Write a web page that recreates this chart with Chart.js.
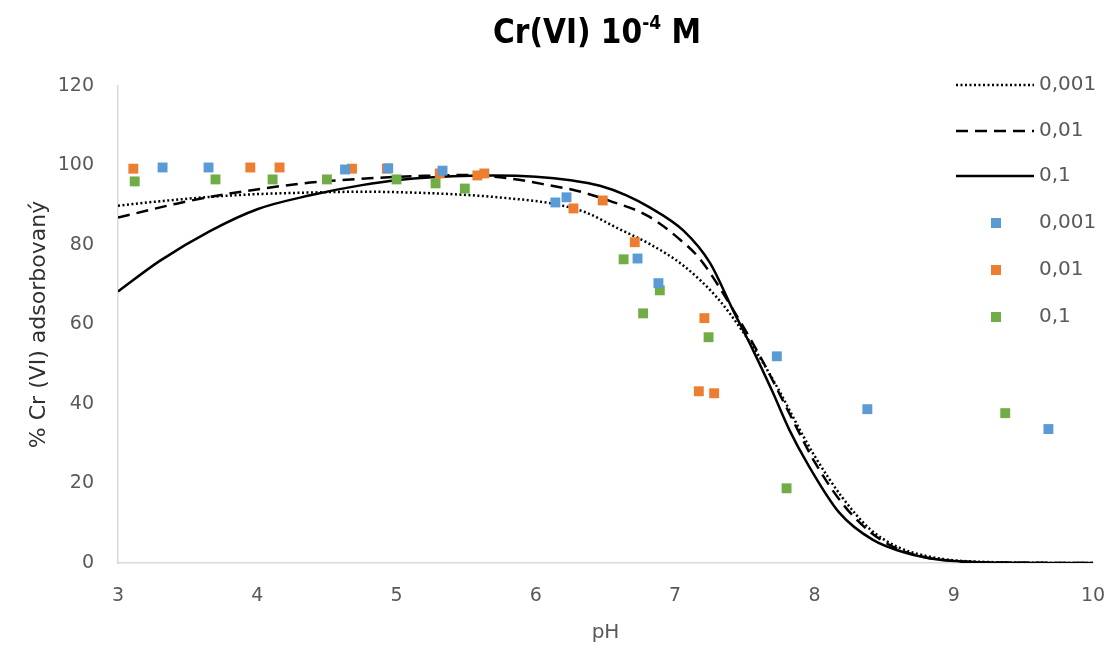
<!DOCTYPE html>
<html>
<head>
<meta charset="utf-8">
<script src="https://cdn.jsdelivr.net/npm/chart.js@4.4.0/dist/chart.umd.min.js"></script>
<style>
  html, body { margin: 0; padding: 0; background: #fff; }
  #wrap { width: 1117px; height: 652px; }
</style>
</head>
<body>
<div id="wrap"><canvas id="myChart" width="1117" height="652"></canvas></div>
<script>
// fitted curves (model)
var line001X = [3.0, 3.3, 3.66, 4.0, 4.38, 4.75, 5.1, 5.5, 5.76, 6.12, 6.35, 6.6, 6.82, 7.06, 7.3, 7.47, 7.62, 7.76, 7.88, 8.0, 8.2, 8.4, 8.6, 8.8, 9.0, 9.3, 9.6, 10];
var line001Y = [89.9, 91.0, 92.1, 92.8, 93.2, 93.4, 93.2, 92.6, 91.9, 90.4, 88.3, 84.0, 80.2, 74.8, 66.8, 59.0, 51.0, 42.5, 34.5, 27.0, 16.5, 8.5, 4.0, 1.8, 0.7, 0.2, 0.05, 0];

var line01X = [3.0, 3.42, 3.66, 4.02, 4.38, 4.86, 5.2, 5.5, 5.8, 6.1, 6.3, 6.53, 6.8, 7.06, 7.18, 7.42, 7.61, 7.75, 7.88, 8.0, 8.2, 8.4, 8.6, 8.8, 9.0, 9.4, 10];
var line01Y = [86.9, 90.4, 92.1, 94.1, 95.7, 96.9, 97.4, 97.6, 96.8, 95.0, 93.6, 91.1, 87.4, 80.6, 76.4, 63.5, 52.0, 42.5, 33.5, 25.5, 15.0, 7.8, 3.5, 1.4, 0.5, 0.1, 0];

var line1X = [3.0, 3.3, 3.66, 4.0, 4.38, 4.74, 5.05, 5.4, 5.7, 6.0, 6.25, 6.46, 6.65, 6.82, 7.06, 7.25, 7.41, 7.56, 7.7, 7.82, 7.95, 8.18, 8.42, 8.66, 8.9, 9.2, 9.6, 10];
var line1Y = [68.3, 76.0, 83.5, 89.0, 92.5, 95.0, 96.5, 97.3, 97.5, 97.2, 96.3, 94.9, 92.5, 89.4, 83.6, 75.5, 64.0, 53.5, 43.0, 33.5, 25.0, 12.6, 5.8, 2.5, 0.8, 0.2, 0.03, 0];

// measured points
var blueX = [3.32, 3.65, 4.63, 4.94, 5.33, 6.14, 6.22, 6.73, 6.88, 7.73, 8.38, 9.68];
var blueY = [99.5, 99.5, 99.0, 99.3, 98.7, 90.7, 92.0, 76.6, 70.4, 52.0, 38.7, 33.7];

var orangeX = [3.11, 3.95, 4.16, 4.68, 4.93, 5.31, 5.58, 5.63, 6.27, 6.48, 6.71, 7.17, 7.21, 7.28];
var orangeY = [99.2, 99.5, 99.5, 99.2, 99.2, 98.0, 97.5, 98.0, 89.2, 91.2, 80.7, 43.2, 61.6, 42.7];

var greenX = [3.12, 3.70, 4.11, 4.50, 5.0, 5.28, 5.49, 6.63, 6.77, 6.89, 7.24, 7.80, 9.37];
var greenY = [96.0, 96.5, 96.5, 96.5, 96.5, 95.5, 94.2, 76.4, 62.8, 68.6, 56.8, 18.8, 37.7];

var legendLabels = ["0,001", "0,01", "0,1", "0,001", "0,01", "0,1"];
var xTitle = "pH";
var yTitle = "% Cr (VI) adsorbovaný";

var pts = (xs, ys) => xs.map((x, i) => ({ x: x, y: ys[i] }));

var fontFam = '"DejaVu Sans", "Open Sans", sans-serif';
var titleFam = '"Liberation Sans Narrow", "DejaVu Sans Condensed", sans-serif';
var grayText = "#595959";

function lineSet(label, xs, ys, dash) {
  return {
    type: "scatter",
    label: label,
    data: pts(xs, ys),
    showLine: true,
    borderColor: "#000",
    backgroundColor: "#000",
    borderWidth: 2.5,
    borderDash: dash,
    pointRadius: 0,
    cubicInterpolationMode: "monotone",
    order: 2
  };
}
function dotSet(label, xs, ys, color) {
  return {
    type: "scatter",
    label: label,
    data: pts(xs, ys),
    showLine: false,
    pointStyle: "rect",
    pointRadius: 7,
    backgroundColor: color,
    borderColor: color,
    borderWidth: 0,
    order: 1
  };
}

// legend + title drawn by hand, the plot overlaps the legend in the original
var sideLegend = {
  id: "sideLegend",
  afterDraw(chart) {
    var ctx = chart.ctx;
    ctx.save();
    // title with superscript
    var big = "bold 33px " + titleFam, small = "bold 19px " + titleFam;
    ctx.font = big;
    var a = "Cr(VI) 10", c = " M";
    var wa = ctx.measureText(a).width, wc = ctx.measureText(c).width;
    ctx.font = small;
    var wb = ctx.measureText("-4").width;
    var x0 = 597 - (wa + wb + wc) / 2;
    ctx.fillStyle = "#000";
    ctx.textBaseline = "alphabetic";
    ctx.font = big; ctx.fillText(a, x0, 43);
    ctx.font = small; ctx.fillText("-4", x0 + wa, 29);
    ctx.font = big; ctx.fillText(c, x0 + wa + wb, 43);

    var rows = [85, 131, 176, 223, 270, 317];
    ctx.font = "20px " + fontFam;
    ctx.textBaseline = "middle";
    chart.data.datasets.forEach((ds, i) => {
      var y = rows[i];
      if (ds.showLine) {
        ctx.strokeStyle = ds.borderColor;
        ctx.lineWidth = ds.borderWidth;
        ctx.setLineDash(ds.borderDash || []);
        ctx.beginPath();
        ctx.moveTo(956, y);
        ctx.lineTo(1034, y);
        ctx.stroke();
        ctx.setLineDash([]);
      } else {
        ctx.fillStyle = ds.backgroundColor;
        ctx.fillRect(991, y - 5, 10, 10);
      }
      ctx.fillStyle = grayText;
      ctx.fillText(legendLabels[i], 1039, y);
    });
    ctx.restore();
  }
};

var ctx = document.getElementById("myChart").getContext("2d");
var chart = new Chart(ctx, {
  type: "scatter",
  data: {
    datasets: [
      lineSet("0,001", line001X, line001Y, [2, 2.5]),
      lineSet("0,01", line01X, line01Y, [12, 7]),
      lineSet("0,1", line1X, line1Y, []),
      dotSet("0,001", blueX, blueY, "#5B9BD5"),
      dotSet("0,01", orangeX, orangeY, "#ED7D31"),
      dotSet("0,1", greenX, greenY, "#70AD47")
    ]
  },
  options: {
    responsive: false,
    animation: false,
    layout: { padding: { top: 86, right: 24, left: 0, bottom: 0 } },
    plugins: {
      legend: { display: false },
      title: { display: false },
      tooltip: { enabled: false }
    },
    scales: {
      x: {
        type: "linear",
        min: 3,
        max: 10,
        ticks: { stepSize: 1, padding: 22, maxRotation: 0, color: grayText, font: { family: fontFam, size: 19 } },
        grid: { display: false, drawTicks: false },
        border: { color: "#d9d9d9", width: 1.5 },
        title: { display: true, text: xTitle, color: grayText, font: { family: fontFam, size: 20 }, padding: { top: 0, bottom: 7 } },
        afterFit: s => { s.height = 89; s.paddingLeft = 0; s.paddingRight = 0; }
      },
      y: {
        min: 0,
        max: 120,
        ticks: { stepSize: 20, padding: 24, color: grayText, font: { family: fontFam, size: 19 } },
        grid: { display: false, drawTicks: false },
        border: { color: "#d9d9d9", width: 1.5 },
        title: { display: true, text: yTitle, color: "#303030", font: { family: fontFam, size: 22 }, padding: { top: 26, bottom: 0 } },
        afterFit: s => { s.width = 118; }
      }
    }
  },
  plugins: [sideLegend]
});
</script>
</body>
</html>
